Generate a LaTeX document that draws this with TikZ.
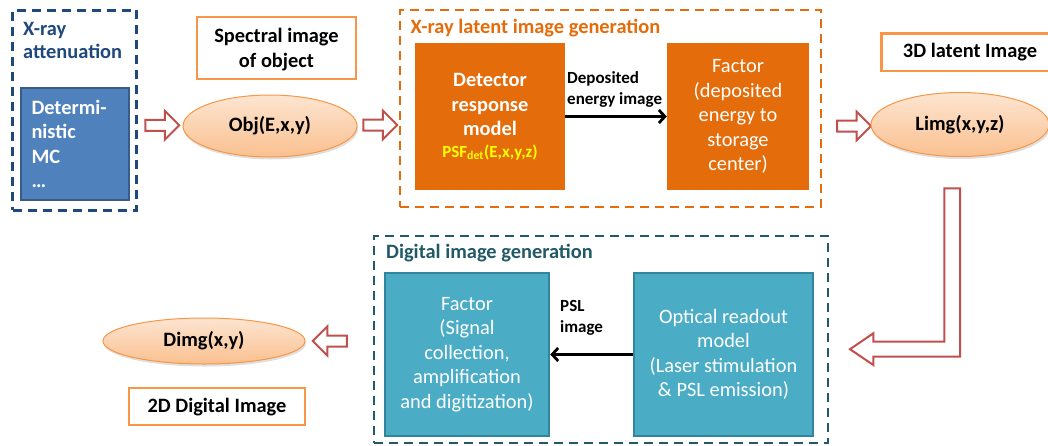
\documentclass[tikz,border=0pt]{standalone}
\usepackage{fontspec}
\setmainfont{Carlito}
\usetikzlibrary{shapes.geometric,shapes.arrows,arrows.meta,shadows}

\definecolor{attblue}{HTML}{1F497D}
\definecolor{boxblue}{HTML}{4F81BD}
\definecolor{boxblueline}{HTML}{385D8A}
\definecolor{latorange}{HTML}{E46C0A}
\definecolor{lightorange}{HTML}{F79646}
\definecolor{elltop}{HTML}{FDE5D1}
\definecolor{ellbot}{HTML}{FAC08F}
\definecolor{digteal}{HTML}{215968}
\definecolor{boxteal}{HTML}{4BACC6}
\definecolor{boxtealline}{HTML}{31859C}
\definecolor{arrowred}{HTML}{C0504D}
\definecolor{psfyellow}{HTML}{FFFF00}

\tikzset{
  bigbold/.style={font=\fontsize{20.4}{24.5}\selectfont\bfseries},
  bigtext/.style={font=\fontsize{20.4}{24.5}\selectfont},
  smallbold/.style={font=\fontsize{17}{21}\selectfont\bfseries},
  groupbox/.style={rectangle, line width=2.8pt, dash pattern=on 9pt off 6pt, inner sep=0pt},
  grouptitle/.style={font=\fontsize{20.4}{23}\selectfont\bfseries, inner sep=0pt, align=left},
  namebox/.style={rectangle, bigbold, draw=lightorange, line width=2.5pt, fill=white, align=center, inner sep=0pt},
  imgell/.style={ellipse, bigbold, draw=lightorange, line width=1pt, top color=elltop, bottom color=ellbot, inner sep=0pt,
    drop shadow={shadow xshift=1pt, shadow yshift=-2.5pt, opacity=0.25}},
  stagebox/.style={rectangle, inner sep=0pt, align=center, text=white},
  hollow/.style={single arrow, draw=arrowred, line width=2pt, fill=white, single arrow head extend=9pt,
    inner sep=4.5pt, minimum height=34pt},
  flow/.style={line width=2.8pt, -{Straight Barb[length=6pt,width=13pt]}},
  flowlabel/.style={smallbold, inner sep=0pt, align=left},
}

\begin{document}
\begin{tikzpicture}[x=1pt,y=-1pt]
  \useasboundingbox (0,0) rectangle (1048,445);

  % x-ray attenuation
  \node[groupbox, draw=attblue, minimum width=124pt, minimum height=200pt] (attn) at (74.5,110.3) {};
  \node[grouptitle, text=attblue, anchor=north west] (attntitle) at (23,22) {X-ray\\attenuation};
  \node[stagebox, bigbold, fill=boxblue, draw=boxblueline, line width=2pt, minimum width=108pt,
    minimum height=112pt, text width=86pt, align=left] (mc) at (74.5,144) {Determi-\\nistic\\MC\\…};

  \node[hollow] (a1) at (159.5,125.3) {};

  % spectral image of object
  \node[namebox, minimum width=159pt, minimum height=62pt, text depth=0pt] (spec) at (276.5,48) {Spectral image\\of object};
  \node[imgell, minimum width=174pt, minimum height=62pt] (obj) at (270,126) {Obj(E,x,y)};

  \node[hollow] (a2) at (377.5,125) {};

  % x-ray latent image generation
  \node[groupbox, draw=latorange, minimum width=421pt, minimum height=197pt] (latent) at (610.5,108.5) {};
  \node[grouptitle, text=latorange, anchor=base west] (lattitle) at (410.5,33) {X-ray latent image generation};
  \node[stagebox, bigbold, fill=latorange, minimum width=150pt, minimum height=147pt] (det) at (490,116.5)
    {Detector\\response\\model\\[-3pt]{\fontsize{17}{21}\selectfont\color{psfyellow}PSF\textsubscript{det}(E,x,y,z)}};
  \node[stagebox, bigtext, fill=latorange, minimum width=142pt, minimum height=147pt] (fac1) at (738,116.5)
    {Factor\\(deposited\\energy to\\storage\\center)};
  \draw[flow] (det.east) -- (fac1.west);
  \node[flowlabel, anchor=north west] (deplabel) at (567,71) {Deposited\\energy image};

  \node[hollow] (a3) at (851.3,126) {};

  % 3D latent image
  \node[namebox, minimum width=177pt, minimum height=37.5pt] (latname) at (970,52) {3D latent Image};
  \node[imgell, minimum width=178pt, minimum height=64pt] (limg) at (960,124.5) {Limg(x,y,z)};

  % bent arrow down to digital part
  \draw[draw=arrowred, line width=2pt, fill=white, line join=miter]
    (944.3,188.3) -- (960,188.3) -- (960,356.7) -- (873.3,356.7) -- (873.3,365)
    -- (850,349.2) -- (873.3,333.3) -- (873.3,341.7) -- (944.3,341.7) -- cycle;

  % digital image generation
  \node[groupbox, draw=digteal, minimum width=454pt, minimum height=207pt] (digital) at (601,339.5) {};
  \node[grouptitle, text=digteal, anchor=base west] (digtitle) at (386,258) {Digital image generation};
  \node[stagebox, bigtext, fill=boxteal, draw=boxtealline, line width=2.5pt, minimum width=164pt,
    minimum height=163pt] (fac2) at (467,354.5) {Factor\\(Signal\\collection,\\amplification\\and digitization)};
  \node[stagebox, bigtext, fill=boxteal, draw=boxtealline, line width=2.5pt, minimum width=179pt,
    minimum height=163pt] (optic) at (723.5,354.5) {Optical readout\\model\\(Laser stimulation\\\& PSL emission)};
  \draw[flow] (optic.west) -- (fac2.east);
  \node[flowlabel, anchor=north west] (psllabel) at (560,300) {PSL\\image};

  \node[hollow, shape border rotate=180] (a4) at (332.5,341) {};

  % 2D digital image
  \node[imgell, minimum width=202pt, minimum height=46pt] (dimg) at (204,341) {Dimg(x,y)};
  \node[namebox, minimum width=176pt, minimum height=37pt] (digname) at (217,406.7) {2D Digital Image};
\end{tikzpicture}
\end{document}
